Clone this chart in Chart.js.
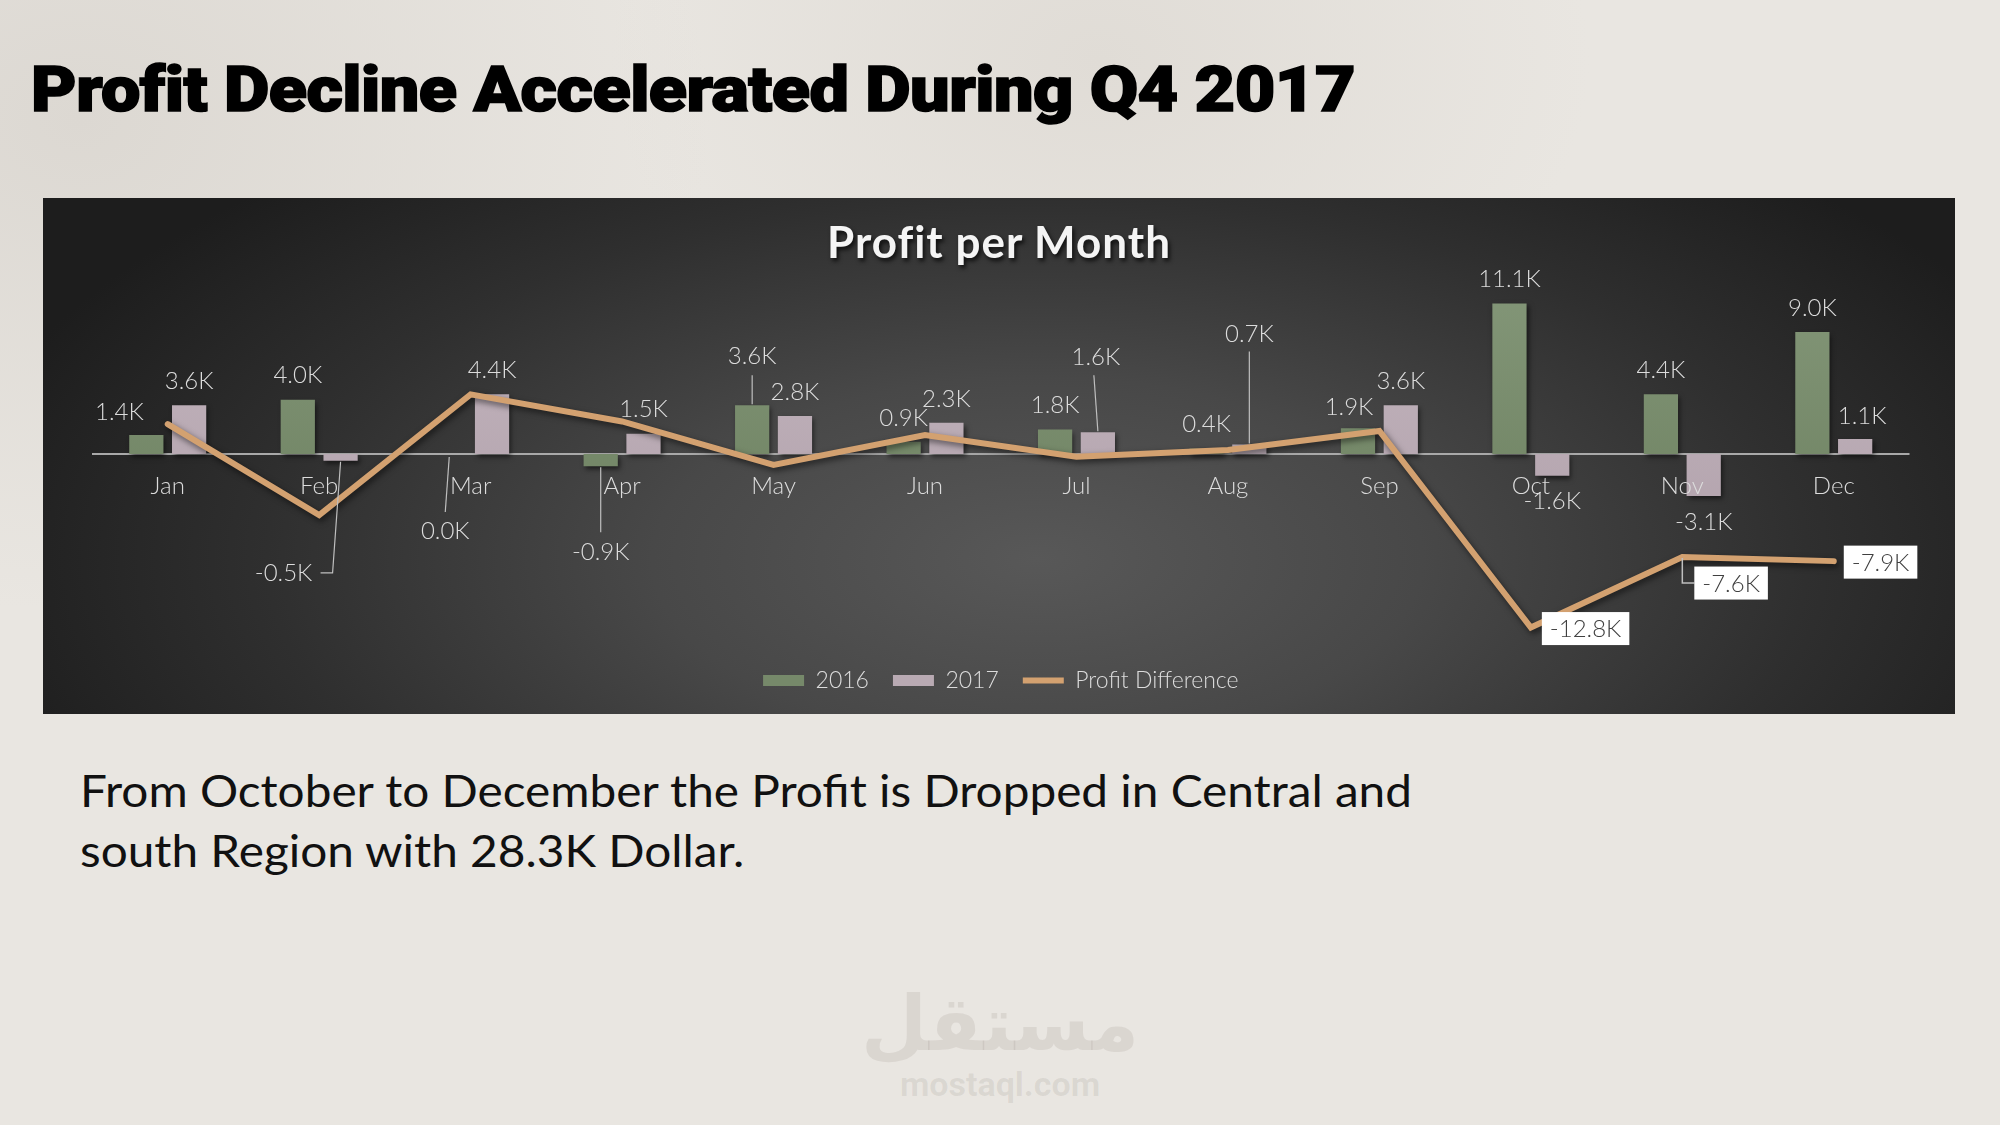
<!DOCTYPE html>
<html>
<head>
<meta charset="utf-8">
<script src="https://cdn.jsdelivr.net/npm/chart.js@4.4.0/dist/chart.umd.min.js"></script>
<style>
  html, body { margin:0; padding:0; }
  body { width:2000px; height:1125px; overflow:hidden; position:relative;
    background: radial-gradient(ellipse 900px 700px at 80px 120px, #dcd8d2 0%, rgba(233,230,225,0) 70%),
                radial-gradient(ellipse 700px 500px at 1100px 60px, #e0dcd6 0%, rgba(233,230,225,0) 70%),
                #e9e6e1;
    font-family: Lato, "Open Sans", sans-serif; }
  #mainTitle { position:absolute; left:31px; top:52px; margin:0; font-family: Roboto, Inter, "Liberation Sans", sans-serif;
    font-weight:900; font-size:63px; line-height:76px; color:#000; white-space:nowrap; transform-origin:left top; letter-spacing:-0.5px;
    -webkit-text-stroke: 1.6px #000; }
  #panel { position:absolute; left:43px; top:198px; width:1912px; height:516px;
    background: radial-gradient(ellipse 1100px 520px at 52% 70%, #585858 0%, #484848 35%, #2f2f2f 70%, #1d1d1d 100%); }
  #panelTitle { position:absolute; left:0; width:1912px; top:16px; text-align:center; font-family: Lato, "Open Sans", sans-serif;
    font-weight:700; font-size:44px; line-height:54px; color:#f4f4f4; letter-spacing:1px; text-shadow: 2px 3px 4px rgba(0,0,0,0.75); }
  #chartBox { position:absolute; left:0; top:0; width:1912px; height:516px; }
  #note { position:absolute; left:80px; top:760px; margin:0; font-family: Lato, "Open Sans", sans-serif; font-weight:400;
    font-size:45px; line-height:60px; color:#111; white-space:nowrap; transform-origin:left top; }
  #wm { position:absolute; left:800px; width:400px; top:982px; text-align:center; color:rgba(120,110,100,0.13); }
  #wmAr { font-family: "DejaVu Sans", "Noto Sans", sans-serif; font-weight:700; font-size:76px; line-height:84px; }
  #wmEn { font-family: Roboto, "Liberation Sans", sans-serif; font-weight:700; font-size:34px; line-height:36px; }
</style>
</head>
<body>
<h1 id="mainTitle">Profit Decline Accelerated During Q4 2017</h1>
<div id="panel">
  <div id="chartBox"><canvas id="c" width="1912" height="516"></canvas></div>
  <div id="panelTitle">Profit per Month</div>
</div>
<div id="note"><span id="l1">From October to December the Profit is Dropped in Central and</span><br><span id="l2">south Region with 28.3K Dollar.</span></div>
<div id="wm"><div id="wmAr">مستقل</div><div id="wmEn">mostaql.com</div></div>

<script>
// ---------------- DATA ----------------
const months = ['Jan','Feb','Mar','Apr','May','Jun','Jul','Aug','Sep','Oct','Nov','Dec'];
const profit2016 = [1.4, 4.0, 0.0, -0.9, 3.6, 0.9, 1.8, 0.4, 1.9, 11.1, 4.4, 9.0];
const profit2017 = [3.6, -0.5, 4.4, 1.5, 2.8, 2.3, 1.6, 0.7, 3.6, -1.6, -3.1, 1.1];
const profitDiff = [2.2, -4.5, 4.4, 2.4, -0.8, 1.4, -0.2, 0.3, 1.7, -12.8, -7.6, -7.9];
const seriesNames = ['2016', '2017', 'Profit Difference'];
const diffLabelMonths = ['Oct', 'Nov', 'Dec'];

// ---------------- STYLE / LAYOUT CONFIG ----------------
const GREEN = '#76896a', PINK = '#b9aab3', LINE = '#d3a170';
const LABEL_COLOR = '#dcdcdc';
const LABEL_FONT = '300 24px Lato, "Open Sans", sans-serif';
const ZERO_Y = 256;      // canvas px where 0 sits
const PX_PER_K = 13.56;  // vertical scale

// label placement tweaks for bar labels, keyed "dataset-index"
const barLabelTweaks = {
  '0-0': {dx:-27, dy:-23},
  '1-1': {dx:-57, dy:112, leader:[[0,1],[-8,112],[-20,112]]},
  '0-2': {dx:-4, dy:77, leader:[[0,3],[-4,58]]},
  '0-3': {dx:0, dy:86, leader:[[0,1],[0,66]]},
  '0-4': {dx:0, dy:-49, leader:[[0,-1],[0,-30]]},
  '1-6': {dx:-2, dy:-75, leader:[[0,-1],[-4,-57]]},
  '1-7': {dx:0, dy:-110, leader:[[0,-1],[0,-93]]},
  '0-8': {dx:-9, dy:-21},
  '1-11': {dx:7, dy:-23}
};
const lineLabelTweaks = {
  'Oct': {dx:11, dy:1},
  'Nov': {dx:12, dy:26, leader:[[0,1],[0,26],[12,26]]},
  'Dec': {dx:10, dy:1}
};

function fmtK(v){ return v.toFixed(1) + 'K'; }

function barGrad(base, top, bottom){
  return function(ctx){
    const chart = ctx.chart; const a = chart.chartArea;
    if (!a) return base;
    const g = chart.ctx.createLinearGradient(0, a.top, 0, a.bottom);
    g.addColorStop(0, top); g.addColorStop(1, bottom);
    return g;
  };
}

const shadowPlugin = {
  id:'shadow',
  beforeDatasetDraw(chart, args){
    const ctx = chart.ctx; ctx.save();
    ctx.shadowColor = 'rgba(0,0,0,0.55)';
    ctx.shadowBlur = args.meta.type === 'line' ? 6 : 5;
    ctx.shadowOffsetX = 2; ctx.shadowOffsetY = 3;
  },
  afterDatasetDraw(chart){ chart.ctx.restore(); }
};

const axisPlugin = {
  id:'axisLine',
  beforeDatasetsDraw(chart){
    const ctx = chart.ctx, a = chart.chartArea, y = chart.scales.y.getPixelForValue(0);
    ctx.save();
    ctx.strokeStyle = '#a9a9a9'; ctx.lineWidth = 2;
    ctx.beginPath(); ctx.moveTo(a.left, y); ctx.lineTo(a.right, y); ctx.stroke();
    ctx.restore();
  }
};

const labelPlugin = {
  id:'valueLabels',
  afterDatasetsDraw(chart){
    const ctx = chart.ctx;
    ctx.save();
    ctx.font = LABEL_FONT; ctx.textAlign = 'center'; ctx.textBaseline = 'middle';
    // month labels next to the axis (drawn over the bars)
    const zeroY = chart.scales.y.getPixelForValue(0);
    ctx.fillStyle = LABEL_COLOR;
    chart.data.labels.forEach((m, i) => {
      ctx.fillText(m, chart.scales.x.getPixelForValue(i), zeroY + 32);
    });
    // bar labels
    [0,1].forEach(di => {
      const meta = chart.getDatasetMeta(di);
      const vals = chart.data.datasets[di].data;
      meta.data.forEach((bar, i) => {
        const v = vals[i];
        const neg = v < 0;
        const endY = bar.y;
        const t = barLabelTweaks[di + '-' + i] || {dx:0, dy: neg ? 26 : -24};
        if (t.leader){
          ctx.strokeStyle = '#bfbfbf'; ctx.lineWidth = 1.2;
          ctx.beginPath();
          t.leader.forEach((p, k) => { const px = bar.x + p[0], py = endY + p[1]; k ? ctx.lineTo(px, py) : ctx.moveTo(px, py); });
          ctx.stroke();
        }
        ctx.fillStyle = LABEL_COLOR;
        ctx.fillText(fmtK(v), bar.x + t.dx, endY + t.dy);
      });
    });
    // line labels (boxes)
    const lmeta = chart.getDatasetMeta(2);
    const lvals = chart.data.datasets[2].data;
    diffLabelMonths.forEach(m => {
      const i = chart.data.labels.indexOf(m);
      const pt = lmeta.data[i];
      const t = lineLabelTweaks[m];
      const txt = fmtK(lvals[i]);
      const w = ctx.measureText(txt).width + 16, h = 33;
      if (t.leader){
        ctx.strokeStyle = '#bfbfbf'; ctx.lineWidth = 1.5;
        ctx.beginPath();
        t.leader.forEach((p, k) => { const px = pt.x + p[0], py = pt.y + p[1]; k ? ctx.lineTo(px, py) : ctx.moveTo(px, py); });
        ctx.stroke();
      }
      const bx = pt.x + t.dx, by = pt.y + t.dy - h/2;
      ctx.fillStyle = '#ffffff'; ctx.fillRect(bx, by, w, h);
      ctx.fillStyle = '#404040'; ctx.textAlign = 'left';
      ctx.fillText(txt, bx + 8, by + h/2 + 1);
      ctx.textAlign = 'center';
    });
    ctx.restore();
  }
};

function start(){
  // fit headline widths
  const mt = document.getElementById('mainTitle');
  mt.style.transform = 'scaleX(' + (1324 / mt.getBoundingClientRect().width) + ')';
  const l1 = document.getElementById('l1');
  const note = document.getElementById('note');
  note.style.transform = 'scaleX(' + (1332 / l1.getBoundingClientRect().width) + ')';

  const chart = new Chart(document.getElementById('c'), {
    data: {
      labels: months,
      datasets: [
        { type:'bar', label: seriesNames[0], data: profit2016,
          backgroundColor: barGrad(GREEN, '#85987a', '#667a59'), borderWidth:0,
          categoryPercentage:0.565, barPercentage:0.8, order:1 },
        { type:'bar', label: seriesNames[1], data: profit2017,
          backgroundColor: barGrad(PINK, '#c6b8c1', '#ab9ba5'), borderWidth:0,
          categoryPercentage:0.565, barPercentage:0.8, order:1 },
        { type:'line', label: seriesNames[2], data: profitDiff,
          borderColor: LINE, backgroundColor: LINE, borderWidth:6, pointRadius:0, pointHoverRadius:0,
          tension:0, borderJoinStyle:'miter', borderCapStyle:'round', order:0 }
      ]
    },
    options: {
      responsive:false, animation:false, devicePixelRatio:1,
      layout: { padding: { left:49, right:45.5, top:60, bottom:12 } },
      scales: {
        x: { display:false, offset:true },
        y: { display:false, min:-15, max:14 }
      },
      plugins: {
        tooltip: { enabled:false },
        title: { display:false },
        legend: {
          display:true, position:'bottom',
          labels: {
            usePointStyle:true, pointStyleWidth:41, boxHeight:11, padding:24,
            color:'#dcdcdc', font:{ family:'Lato', size:23, weight:'300' },
            sort:(a,b)=>a.datasetIndex-b.datasetIndex,
            generateLabels(chart){
              const items = Chart.defaults.plugins.legend.labels.generateLabels(chart);
              items.forEach(it => {
                const ds = chart.data.datasets[it.datasetIndex];
                if (ds.type === 'line'){ it.pointStyle='line'; it.strokeStyle=LINE; it.fillStyle=LINE; it.lineWidth=6; }
                else { const c = it.datasetIndex===0 ? GREEN : PINK; it.pointStyle='rect'; it.fillStyle=c; it.strokeStyle=c; it.lineWidth=0; }
                it.fontColor = '#dcdcdc';
              });
              return items;
            }
          }
        }
      }
    },
    plugins: [axisPlugin, shadowPlugin, labelPlugin]
  });
  const a = chart.chartArea;
  chart.options.scales.y.min = -(a.bottom - ZERO_Y) / PX_PER_K;
  chart.options.scales.y.max = (ZERO_Y - a.top) / PX_PER_K;
  chart.update('none');
}
if (document.fonts && document.fonts.ready) { document.fonts.ready.then(start); } else { start(); }
</script>
</body>
</html>
